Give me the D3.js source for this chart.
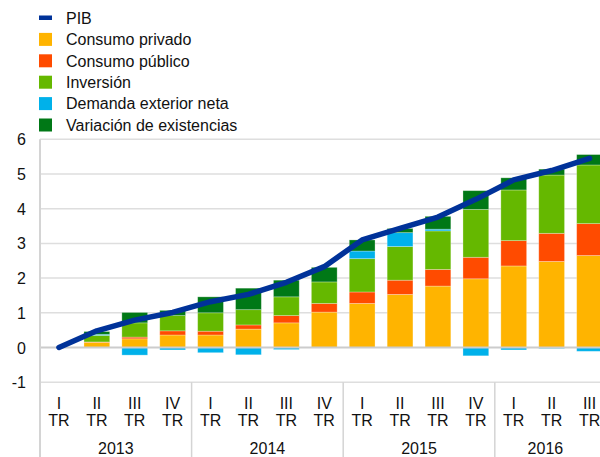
<!DOCTYPE html>
<html>
<head>
<meta charset="utf-8">
<script src="https://cdn.jsdelivr.net/npm/d3@7"></script>
<style>
  html, body { margin: 0; padding: 0; background: #fff; overflow: hidden; }
  svg { display: block; font-family: "Liberation Sans", Arial, sans-serif; }
</style>
</head>
<body>
<svg id="chart" width="600" height="457"></svg>
<script>
// ---- Data ----
const years = ["2013", "2014", "2015", "2016"];
const quarterNames = ["I", "II", "III", "IV"];
const categories = [
  "2013-I","2013-II","2013-III","2013-IV",
  "2014-I","2014-II","2014-III","2014-IV",
  "2015-I","2015-II","2015-III","2015-IV",
  "2016-I","2016-II","2016-III"
];
const consumoPrivado = [0, 0.15, 0.25, 0.36, 0.36, 0.53, 0.71, 1.02, 1.27, 1.53, 1.77, 1.98, 2.35, 2.48, 2.65];
const consumoPublico = [0, 0.01, 0.05, 0.12, 0.11, 0.12, 0.21, 0.25, 0.33, 0.41, 0.48, 0.62, 0.73, 0.81, 0.92];
const inversion      = [0, 0.19, 0.41, 0.44, 0.53, 0.44, 0.54, 0.62, 0.96, 0.97, 1.11, 1.38, 1.46, 1.68, 1.69];
const demandaExterior= [0, 0.03, -0.22, -0.07, -0.15, -0.21, -0.06, 0, 0.22, 0.40, 0.05, -0.24, -0.07, -0.03, -0.11];
const existencias    = [0, 0.08, 0.30, 0.15, 0.46, 0.62, 0.48, 0.42, 0.32, 0.12, 0.37, 0.54, 0.35, 0.17, 0.30];
const pib            = [0, 0.48, 0.79, 1.01, 1.32, 1.53, 1.88, 2.33, 3.10, 3.43, 3.76, 4.27, 4.83, 5.10, 5.45];
const yTicks = [-1, 0, 1, 2, 3, 4, 5, 6];

const seriesNames = ["Consumo privado", "Consumo público", "Inversión", "Demanda exterior neta", "Variación de existencias"];
const seriesValues = [consumoPrivado, consumoPublico, inversion, demandaExterior, existencias];
const seriesColors = ["#FFB400", "#FF4B00", "#65B800", "#00B1EA", "#007816"];
const pibColor = "#003299";

// ---- Layout ----
const svg = d3.select("#chart");
const plotLeft = 40, zeroY = 347.5;
const unit = 34.7;
const step = 37.9;
const FS = 16;
const textColor = "#111111";

const y = d3.scaleLinear().domain([0, 6]).range([zeroY, zeroY - 6 * unit]);
const x = d3.scaleBand().domain(categories)
  .range([plotLeft, plotLeft + step * categories.length])
  .paddingInner(0.32).paddingOuter(0.16);

const rows = categories.map((c, i) => {
  const r = { cat: c };
  seriesNames.forEach((s, k) => r[s] = seriesValues[k][i]);
  return r;
});
const stacked = d3.stack().keys(seriesNames).offset(d3.stackOffsetDiverging)(rows);

// grid lines
svg.append("g").selectAll("line").data(yTicks.filter(t => t !== 0)).join("line")
  .attr("x1", plotLeft).attr("x2", 600)
  .attr("y1", d => y(d)).attr("y2", d => y(d))
  .attr("stroke", "#dedede").attr("stroke-width", 1.5);

// bars
const barG = svg.append("g");
stacked.forEach((layer, k) => {
  barG.append("g").selectAll("rect")
    .data(layer.filter(d => Math.abs(d[1] - d[0]) > 1e-9))
    .join("rect")
    .attr("x", d => x(d.data.cat))
    .attr("width", x.bandwidth())
    .attr("y", d => y(Math.max(d[0], d[1])))
    .attr("height", d => Math.abs(y(d[0]) - y(d[1])))
    .attr("fill", seriesColors[k])
    .attr("stroke", "#ffffff").attr("stroke-opacity", 0.35).attr("stroke-width", 0.8);
});

// zero line
svg.append("line")
  .attr("x1", plotLeft).attr("x2", 600)
  .attr("y1", y(0)).attr("y2", y(0))
  .attr("stroke", "#cccccc").attr("stroke-width", 2);

// y axis line
svg.append("line")
  .attr("x1", plotLeft).attr("x2", plotLeft)
  .attr("y1", y(6)).attr("y2", 457)
  .attr("stroke", "#d4d4d4").attr("stroke-width", 2);

// y tick labels
svg.append("g").selectAll("text").data(yTicks).join("text")
  .attr("x", 26).attr("y", d => y(d) + 6)
  .attr("text-anchor", "end")
  .attr("font-size", FS).attr("fill", textColor)
  .text(d => d);

// year separators below plot
const groupStarts = years.map((yr, i) => plotLeft + i * 4 * step);
svg.append("g").selectAll("line").data(groupStarts.slice(1)).join("line")
  .attr("x1", d => d).attr("x2", d => d)
  .attr("y1", y(-1)).attr("y2", 457)
  .attr("stroke", "#d4d4d4").attr("stroke-width", 1.5);

// quarter labels
const qLabels = svg.append("g").attr("font-size", FS).attr("fill", textColor).attr("text-anchor", "middle");
categories.forEach((c, i) => {
  const cx = x(c) + x.bandwidth() / 2;
  qLabels.append("text").attr("x", cx).attr("y", 409).text(quarterNames[i % 4]);
  qLabels.append("text").attr("x", cx).attr("y", 426).text("TR");
});

// year labels (centered on visible part of each group)
svg.append("g").selectAll("text").data(years).join("text")
  .attr("x", (d, i) => {
    const s = groupStarts[i];
    const e = Math.min(s + 4 * step, 600);
    return (s + e) / 2 - (e < s + 4 * step ? 2 : 0);
  })
  .attr("y", 454)
  .attr("text-anchor", "middle").attr("font-size", FS).attr("fill", textColor)
  .text(d => d);

// PIB line
const line = d3.line()
  .x((d, i) => x(categories[i]) + x.bandwidth() / 2)
  .y(d => y(d));
svg.append("path").datum(pib)
  .attr("d", line)
  .attr("fill", "none").attr("stroke", pibColor)
  .attr("stroke-width", 5.5).attr("stroke-linejoin", "round").attr("stroke-linecap", "round");

// legend
const legend = svg.append("g");
const legendItems = [{ name: "PIB", color: pibColor, isLine: true }]
  .concat(seriesNames.map((n, k) => ({ name: n, color: seriesColors[k], isLine: false })));
legendItems.forEach((it, i) => {
  const cy = 18 + i * 21.4;
  if (it.isLine) {
    legend.append("rect").attr("x", 39).attr("y", cy - 2.5).attr("width", 13).attr("height", 4.5).attr("fill", it.color);
  } else {
    legend.append("rect").attr("x", 39).attr("y", cy - 6.5).attr("width", 13).attr("height", 13).attr("fill", it.color);
  }
  legend.append("text").attr("x", 66).attr("y", cy + 5.8)
    .attr("font-size", FS).attr("fill", textColor).text(it.name);
});
</script>
</body>
</html>
